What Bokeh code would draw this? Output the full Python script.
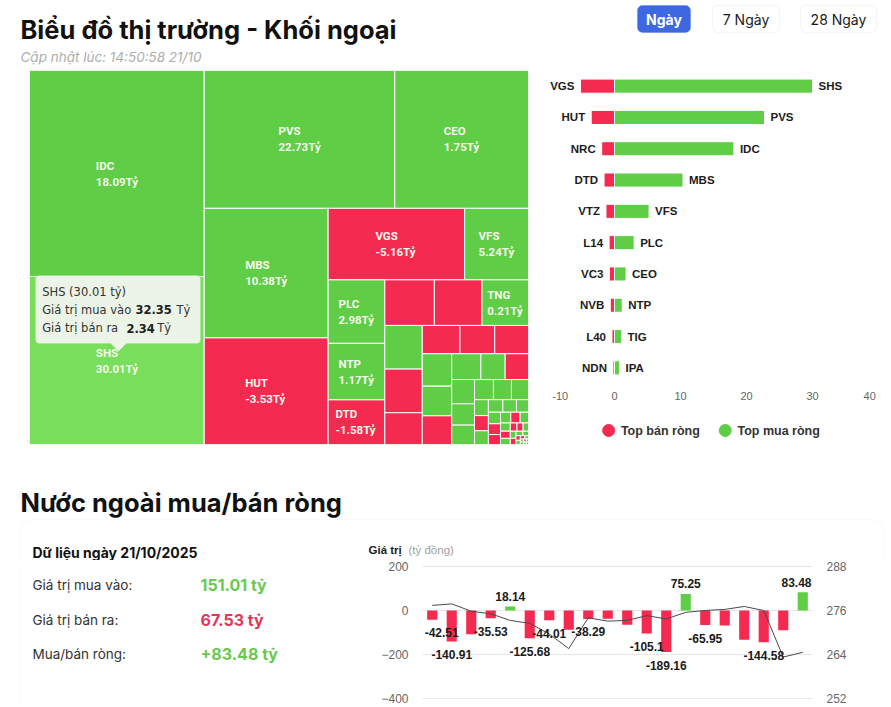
import math
from bokeh.plotting import figure
from bokeh.models import (Range1d, ColumnDataSource, BoxAnnotation, LinearAxis, FixedTicker)
from bokeh.layouts import column, row
from bokeh.embed import file_html
from bokeh.resources import INLINE
from bokeh.core.properties import value

GREEN = "#5fcd45"
GREEN_HOVER = "#77df5b"
RED = "#f42a50"
HEAD_FONT = "Inter"
CHART_FONT = "Liberation Sans"
LABEL_FONT = "Roboto"
TT_FONT = "DejaVu Sans"

# ------------------------------------------------------------------ data
page_title = "Biểu đồ thị trường - Khối ngoại"
updated_text = "Cập nhật lúc: 14:50:58 21/10"
period_buttons = ["Ngày", "7 Ngày", "28 Ngày"]

# treemap: tile size (total traded value, read from tile areas), side, labels
treemap_sizes = [35844, 29232, 26167, 18358, 15990, 13161, 9727, 4544, 3584, 3192,
                 2520, 2250, 2160, 2115, 1628, 1628, 1184, 1064, 980, 952,
                 950, 870, 841, 750, 625, 600, 550, 484, 440, 380,
                 361, 342, 220, 210, 190, 180, 170, 150, 140, 130,
                 120, 110, 100, 90, 80, 70, 60, 55, 50, 45,
                 40, 35, 30, 25, 20, 18, 15, 12, 10, 9, 8, 7, 6, 5]
treemap_buy = ("g g g g g r r g g g r r r g g r r r r r g g r g g r g g g g g g "
               "g r g g g g g r r g r g g r g r r g g r g g r g r g g g r g g g").split()
treemap_codes = ["IDC", "SHS", "PVS", "CEO", "MBS", "HUT", "VGS", "VFS", "PLC", "NTP",
                 "DTD", "", "", "TNG"] + [""] * 50
treemap_net_text = ["18.09Tỷ", "30.01Tỷ", "22.73Tỷ", "1.75Tỷ", "10.38Tỷ", "-3.53Tỷ",
                    "-5.16Tỷ", "5.24Tỷ", "2.98Tỷ", "1.17Tỷ", "-1.58Tỷ", "", "",
                    "0.21Tỷ"] + [""] * 50
hover_code = "SHS"
tooltip_lines = ["SHS (30.01 tỷ)", "Giá trị mua vào", "32.35", "Tỷ",
                 "Giá trị bán ra", "2.34", "Tỷ"]

# top net sell / net buy
top_sell_codes = ["VGS", "HUT", "NRC", "DTD", "VTZ", "L14", "VC3", "NVB", "L40", "NDN"]
top_sell_values = [-5.16, -3.53, -1.94, -1.58, -1.29, -0.82, -0.78, -0.64, -0.38, -0.23]
top_buy_codes = ["SHS", "PVS", "IDC", "MBS", "VFS", "PLC", "CEO", "NTP", "TIG", "IPA"]
top_buy_values = [30.01, 22.73, 18.09, 10.38, 5.24, 2.98, 1.75, 1.17, 1.06, 0.76]
top_x_ticks = [-10, 0, 10, 20, 30, 40]
top_x_labels = ["-10", "0", "10", "20", "30", "40"]
legend_labels = ["Top bán ròng", "Top mua ròng"]
legend_colors = [RED, GREEN]

# net foreign flow section
section_title = "Nước ngoài mua/bán ròng"
summary_title = "Dữ liệu ngày 21/10/2025"
summary_labels = ["Giá trị mua vào:", "Giá trị bán ra:", "Mua/bán ròng:"]
summary_values = ["151.01 tỷ", "67.53 tỷ", "+83.48 tỷ"]
summary_is_buy = [True, False, True]

net_days = list(range(1, 21))
net_values = [-42.51, -140.91, -108.0, -35.53, 18.14, -125.68, -44.01, -88.0, -38.29, -38.0,
              -65.0, -105.1, -189.16, 75.25, -65.95, -68.0, -133.0, -144.58, -90.0, 83.48]
net_labels = ["-42.51", "-140.91", "", "-35.53", "18.14", "-125.68", "-44.01", "", "-38.29", "",
              "", "-105.1", "-189.16", "75.25", "-65.95", "", "", "-144.58", "", "83.48"]
index_values = [277.4, 277.8, 275.8, 275.1, 273.3, 272.5, 269.6, 265.6, 274.0, 273.1,
                273.3, 274.6, 273.7, 275.5, 276.0, 276.3, 277.1, 276.0, 263.3, 264.6]
net_ticks = [-400, -200, 0, 200]
index_ticks = [252, 264, 276, 288]


# ------------------------------------------------------------------ helpers
def canvas(x0, x1, y0, y1):
    """A figure whose data space equals page pixel space."""
    p = figure(width=x1 - x0, height=y1 - y0, x_range=Range1d(x0, x1), y_range=Range1d(y1, y0),
               output_backend="svg", toolbar_location=None, min_border=0,
               x_axis_location=None, y_axis_location=None)
    p.xgrid.visible = False
    p.ygrid.visible = False
    p.outline_line_color = None
    p.background_fill_color = "white"
    p.border_fill_color = "white"
    return p


def txt(p, x, y, s, size, color="#111111", style="normal", font=HEAD_FONT,
        align="left", baseline="middle", level="overlay"):
    r = p.text(x=[x], y=[y], text=[s], text_font=value(font), text_font_size=size,
               text_font_style=style, text_color=color, text_align=align,
               text_baseline=baseline)
    r.level = level
    return r


def hc_squarify(sizes, width, height):
    """Highcharts 'squarified' treemap algorithm (alternating direction)."""
    nan = float("nan")
    total = float(sum(sizes))
    out = []
    st = {"x": 0.0, "y": 0.0, "h": float(height), "w": float(width), "d": 0,
          "tot": 0.0, "nW": 0.0, "lW": 0.0, "nH": 0.0, "lH": 0.0, "el": [],
          "nR": nan, "lR": nan}

    def add(e):
        last = st["el"][-1] if st["el"] else None
        st["tot"] += e
        if st["d"] == 0:
            st["lW"] = st["nW"]
            st["nW"] = st["tot"] / st["h"]
            if last is None or st["lW"] == 0:
                st["lR"] = st["nR"] = nan
            else:
                lh = last / st["lW"]
                st["lR"] = max(st["lW"] / lh, lh / st["lW"])
                nh = last / st["nW"]
                st["nR"] = max(st["nW"] / nh, nh / st["nW"])
        else:
            st["lH"] = st["nH"]
            st["nH"] = st["tot"] / st["w"]
            if last is None or st["lH"] == 0:
                st["lR"] = st["nR"] = nan
            else:
                lw = last / st["lH"]
                st["lR"] = max(lw / st["lH"], st["lH"] / lw)
                nw = last / st["nH"]
                st["nR"] = max(nw / st["nH"], st["nH"] / nw)
        st["el"].append(e)

    def calc(last):
        end = len(st["el"]) - 1
        if last:
            gw, gh = st["nW"], st["nH"]
            keep = None
        else:
            gw, gh = st["lW"], st["lH"]
            keep = st["el"][end]
        for i, a in enumerate(st["el"]):
            if last or i < end:
                if st["d"] == 0:
                    w_, h_ = gw, a / gw
                    out.append((st["x"], st["y"], w_, h_))
                    st["y"] += h_
                else:
                    h_, w_ = gh, a / gh
                    out.append((st["x"], st["y"], w_, h_))
                    st["x"] += w_
        st["nW"] = st["lW"] = 0.0
        st["el"] = []
        st["tot"] = 0.0
        if st["d"] == 0:
            st["w"] -= gw
        else:
            st["h"] -= gh
        st["y"] = height - st["h"]
        st["x"] = width - st["w"]
        st["d"] = 1 - st["d"]
        if not last:
            add(keep)

    n = len(sizes)
    for i, v in enumerate(sizes):
        add(width * height * v / total)
        if st["nR"] > st["lR"]:
            calc(False)
        if i == n - 1:
            calc(True)
    return out


# ------------------------------------------------------------------ header
p_head = canvas(0, 891, 0, 70)
txt(p_head, 20, 29, page_title, "25.5px", style="bold", baseline="alphabetic")
txt(p_head, 20, 56, updated_text, "13.5px", color="#adadad", style="italic",
    baseline="alphabetic")
btn_left = [637, 712, 800]
btn_right = [690, 779, 876]
for i, lab in enumerate(period_buttons):
    active = i == 0
    p_head.add_layout(BoxAnnotation(left=btn_left[i], right=btn_right[i], top=5, bottom=32,
                                    fill_color="#3e68e2" if active else "white", fill_alpha=1,
                                    line_color="#3e68e2" if active else "#dedede",
                                    line_width=1, border_radius=5))
    txt(p_head, (btn_left[i] + btn_right[i]) / 2, 19, lab, "14px",
        color="white" if active else "#1a1a1a", align="center",
        style="bold" if active else "normal")

# ------------------------------------------------------------------ treemap
TM_W, TM_H = 499, 374
p_tm = figure(width=540, height=386, x_range=Range1d(0, TM_W), y_range=Range1d(TM_H, 0),
              output_backend="svg", toolbar_location=None, x_axis_location=None,
              y_axis_location=None, min_border_left=29, min_border_right=12,
              min_border_top=0, min_border_bottom=12)
p_tm.xgrid.visible = False
p_tm.ygrid.visible = False
p_tm.outline_line_color = None

rects = hc_squarify(treemap_sizes, TM_W, TM_H)
colors = []
for code, side in zip(treemap_codes, treemap_buy):
    if code == hover_code:
        colors.append(GREEN_HOVER)
    else:
        colors.append(GREEN if side == "g" else RED)
tm_src = ColumnDataSource(dict(
    left=[r[0] for r in rects], right=[r[0] + r[2] for r in rects],
    top=[r[1] for r in rects], bottom=[r[1] + r[3] for r in rects], color=colors))
p_tm.quad(left="left", right="right", top="top", bottom="bottom", source=tm_src,
          fill_color="color", line_color="white", line_width=1)

lx, ly, lt = [], [], []
for (x, y, w, h), code, net in zip(rects, treemap_codes, treemap_net_text):
    if not code:
        continue
    cx, cy = x + w / 2, y + h / 2
    left = cx - 3.0 * len(net)
    lx += [left, left]
    ly += [cy - 8, cy + 8]
    lt += [code, net]
p_tm.text(x=lx, y=ly, text=lt, text_font=value(LABEL_FONT), text_font_style="bold",
          text_font_size="11.5px", text_color="#f6f8ec", text_baseline="middle")

# tooltip (hovered SHS tile)
TT_L, TT_R, TT_T, TT_B = 6, 171, 205, 273
p_tm.add_layout(BoxAnnotation(left=TT_L, right=TT_R, top=TT_T, bottom=TT_B,
                              fill_color="#eef5ea", fill_alpha=0.97, line_color="#a6de8e",
                              line_width=1, border_radius=4))
tip = p_tm.patch(x=[81, 97, 89], y=[TT_B - 0.6, TT_B - 0.6, TT_B + 8], fill_color="#eef5ea",
                 line_color=None)
tip.level = "overlay"
tip_edge = p_tm.line(x=[81, 89, 97], y=[TT_B, TT_B + 8, TT_B], line_color="#a6de8e",
                     line_width=1)
tip_edge.level = "overlay"
txt(p_tm, 12.7, 221.7, tooltip_lines[0], "11.5px", color="#333333", font=TT_FONT)
txt(p_tm, 12.7, 239.3, tooltip_lines[1], "11.5px", color="#333333", font=TT_FONT)
txt(p_tm, 106, 239.3, tooltip_lines[2], "11.5px", color="#222222", style="bold", font=TT_FONT)
txt(p_tm, 147, 239.3, tooltip_lines[3], "11.5px", color="#333333", font=TT_FONT)
txt(p_tm, 12.7, 257.7, tooltip_lines[4], "11.5px", color="#333333", font=TT_FONT)
txt(p_tm, 97, 257.7, tooltip_lines[5], "11.5px", color="#222222", style="bold", font=TT_FONT)
txt(p_tm, 127.7, 257.7, tooltip_lines[6], "11.5px", color="#333333", font=TT_FONT)

# ------------------------------------------------------------------ top buy / sell bars
TOP_LO, TOP_HI = -10, 40
TOP_FRAME_W = 330
p_top = figure(width=351, height=335, x_range=Range1d(TOP_LO, TOP_HI),
               y_range=Range1d(9.5, -0.5),
               output_backend="svg", toolbar_location=None, y_axis_location=None,
               min_border_left=8, min_border_right=13, min_border_top=0, min_border_bottom=22)
p_top.xgrid.visible = False
p_top.ygrid.visible = False
p_top.outline_line_color = None
rows_idx = list(range(len(top_buy_codes)))
src_top = ColumnDataSource(dict(y=rows_idx, sell=top_sell_values, buy=top_buy_values,
                                sell_code=top_sell_codes, buy_code=top_buy_codes))
p_top.hbar(y="y", left="sell", right=0, height=0.45, source=src_top, fill_color=RED,
           line_color="white", line_width=1)
p_top.hbar(y="y", left=0, right="buy", height=0.45, source=src_top, fill_color=GREEN,
           line_color="white", line_width=1)
p_top.text(x="sell", y="y", text="sell_code", source=src_top, x_offset=-6,
           text_align="right", text_baseline="middle", text_font=value(CHART_FONT),
           text_font_size="11.5px", text_font_style="bold", text_color="#1c1c1c")
p_top.text(x="buy", y="y", text="buy_code", source=src_top, x_offset=6,
           text_align="left", text_baseline="middle", text_font=value(CHART_FONT),
           text_font_size="11.5px", text_font_style="bold", text_color="#1c1c1c")

# edge tick labels are pulled inside the plot width (as the original does)
px_per_unit = TOP_FRAME_W / (TOP_HI - TOP_LO)
label_pos = []
for t, lab in zip(top_x_ticks, top_x_labels):
    inset = (3 + 2.9 * len(lab)) / px_per_unit
    if t == TOP_LO:
        label_pos.append(round(t + inset, 3))
    elif t == TOP_HI:
        label_pos.append(round(t - inset, 3))
    else:
        label_pos.append(float(t))
ax = p_top.xaxis[0]
ax.ticker = FixedTicker(ticks=label_pos)
ax.major_label_overrides = {pos: lab for pos, lab in zip(label_pos, top_x_labels)}
ax.axis_line_color = None
ax.major_tick_line_color = None
ax.minor_tick_line_color = None
ax.major_tick_out = 0
ax.major_tick_in = 0
ax.minor_tick_out = 0
ax.major_label_standoff = 8
ax.major_label_text_font = CHART_FONT
ax.major_label_text_font_size = "11px"
ax.major_label_text_color = "#666666"

# legend strip under the bar chart
p_leg = canvas(540, 891, 405, 456)
legend_x = [604, 728]
p_leg.scatter(x=legend_x, y=[430, 430], marker="circle", size=12,
              fill_color=legend_colors, line_color=legend_colors)
p_leg.text(x=[lx_ + 13 for lx_ in legend_x], y=[430, 430], text=legend_labels,
           text_font=value(CHART_FONT), text_font_size="12.5px", text_font_style="bold",
           text_color="#333333", text_baseline="middle")

# ------------------------------------------------------------------ section header
p_d1 = canvas(0, 891, 456, 560)
p_d1.add_layout(BoxAnnotation(left=20, right=884, top=519, bottom=640, fill_color="white",
                              line_color="#e8eaee", line_width=1, border_radius=12))
txt(p_d1, 20, 502, section_title, "25.5px", style="bold", baseline="alphabetic")
txt(p_d1, 32, 552, summary_title, "14px", style="bold", baseline="alphabetic")
txt(p_d1, 368, 549, "Giá trị", "11.5px", color="#222222", style="bold", font=CHART_FONT)
txt(p_d1, 408, 549, "(tỷ đồng)", "11.5px", color="#a0a0a0", font=CHART_FONT)

# ------------------------------------------------------------------ summary panel
p_d2 = canvas(0, 360, 560, 705)
p_d2.add_layout(BoxAnnotation(left=20, right=900, top=400, bottom=800, fill_color="white",
                              line_color="#e8eaee", line_width=1))
row_y = [580, 616, 652]
for lab, val, buy, yy in zip(summary_labels, summary_values, summary_is_buy, row_y):
    txt(p_d2, 32, yy, lab, "13.5px", color="#333333")
    txt(p_d2, 200, yy, val, "16px", color="#69c94f" if buy else "#e8335a", style="bold")

# ------------------------------------------------------------------ net flow chart
PX_PER_DAY = 19.5
p_net = figure(width=531, height=145, x_range=Range1d(0.5, 20.5),
               y_range=Range1d(-431.8, 204.55), output_backend="svg", toolbar_location=None,
               x_axis_location=None, min_border_left=62, min_border_right=79,
               min_border_top=5, min_border_bottom=0)
p_net.outline_line_color = None
p_net.xgrid.visible = False
p_net.ygrid.ticker = FixedTicker(ticks=net_ticks)
p_net.ygrid.grid_line_color = "#e6e6e6"
p_net.extra_y_ranges = {"idx": Range1d(250.09, 288.27)}
p_net.yaxis[0].ticker = FixedTicker(ticks=net_ticks)
rax = LinearAxis(y_range_name="idx", ticker=FixedTicker(ticks=index_ticks))
p_net.add_layout(rax, "right")
for a in [p_net.yaxis[0], rax]:
    a.axis_line_color = None
    a.major_tick_line_color = None
    a.minor_tick_line_color = None
    a.major_tick_out = 0
    a.major_tick_in = 0
    a.minor_tick_out = 0
    a.major_label_standoff = 14
    a.major_label_text_font = CHART_FONT
    a.major_label_text_font_size = "12px"
    a.major_label_text_color = "#666666"

bar_colors = [GREEN if v > 0 else RED for v in net_values]
p_net.vbar(x=net_days, top=net_values, bottom=0, width=0.52, fill_color=bar_colors,
           line_color=None)
p_net.line(x=net_days, y=index_values, y_range_name="idx", line_color="#4a4a4a",
           line_width=1)

# data labels, kept inside the plot area like the original
n_days = len(net_days)
for sign, off in [(-1, 13), (1, -10)]:
    xs, ys, ts, offs = [], [], [], []
    for d, v, t in zip(net_days, net_values, net_labels):
        if not t or (v > 0) != (sign > 0):
            continue
        half = 3.2 * len(t)
        room_left = (d - 0.5) * PX_PER_DAY
        room_right = (n_days + 0.5 - d) * PX_PER_DAY
        shift = max(0.0, half - room_left) - max(0.0, half - room_right)
        xs.append(d); ys.append(v); ts.append(t); offs.append(shift)
    src = ColumnDataSource(dict(x=xs, y=ys, t=ts, o=offs))
    p_net.text(x="x", y="y", text="t", x_offset="o", y_offset=off, source=src,
               text_align="center", text_baseline="middle",
               text_font=value(CHART_FONT), text_font_size="12px", text_font_style="bold",
               text_color="#1a1a1a")

layout = column(p_head, row(p_tm, column(p_top, p_leg)), p_d1, row(p_d2, p_net))
open("out.html", "w").write(file_html(layout, INLINE))
